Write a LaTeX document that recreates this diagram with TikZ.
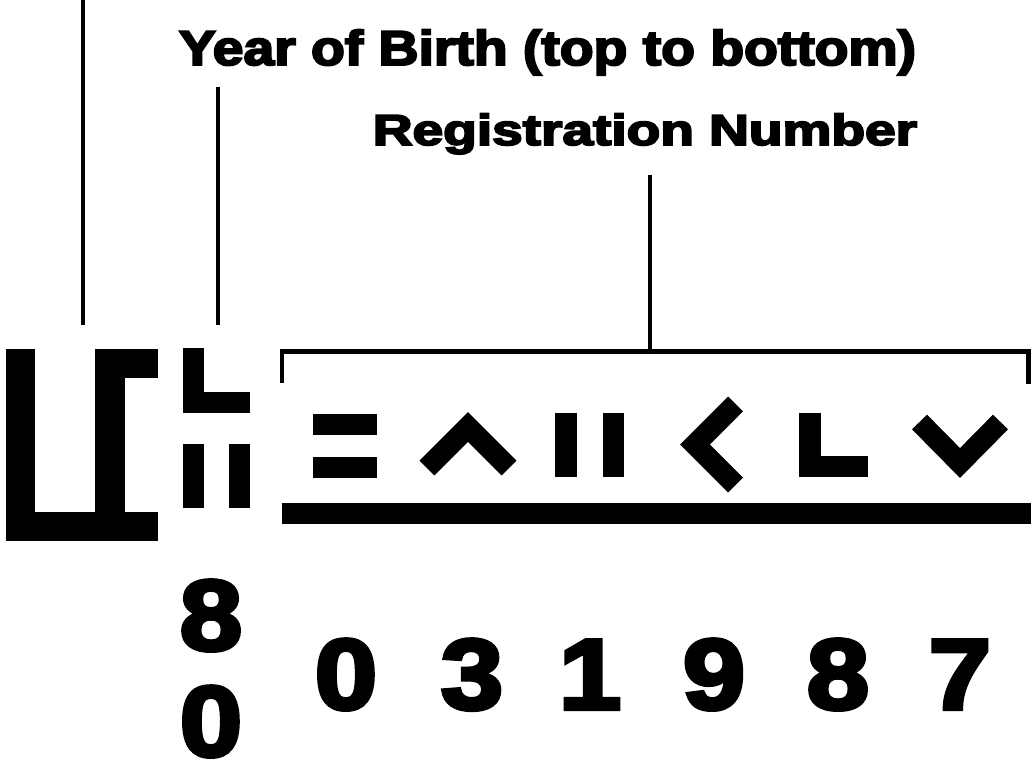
\documentclass[tikz,border=0pt]{standalone}
\usepackage{fontspec}
\usepackage{graphicx}
\usepackage{tikz}
\newfontfamily\heavyfont{Liberation Sans}[BoldFeatures={FakeBold=4}]

\begin{document}
\begin{tikzpicture}[x=0.75pt, y=-0.75pt,
    leader/.style={line width=3.4pt, line join=miter},
    chevron/.style={line width=15.75pt, line join=miter},
    caption/.style={inner sep=0, anchor=base, font=\heavyfont\bfseries},
    digit/.style={inner sep=0, anchor=base, font=\heavyfont\bfseries\fontsize{75}{80}\selectfont}]

  \useasboundingbox (0, 0) rectangle (1033, 764);

  % labels
  \node[caption] (yob) at (547.5, 65)
  { \fontsize{36.7}{40}\selectfont\scalebox{1.13}[1]{Year of Birth (top to bottom)} };
  \node[caption] (reg) at (645, 145)
  { \fontsize{32.5}{36}\selectfont\scalebox{1.27}[1]{Registration Number} };

  % leaders
  \coordinate (pre top) at (83, 0);
  \coordinate (pre end) at (83, 325);
  \coordinate (yob top) at (218, 87);
  \coordinate (yob end) at (218, 325);
  \coordinate (reg top) at (650, 175);
  \coordinate (reg end) at (650, 351.5);
  \draw[leader] (pre top) -- (pre end);
  \draw[leader] (yob top) -- (yob end);
  \draw[leader] (reg top) -- (reg end);
  \draw[leader] (282, 383) -- (282, 351.5) -- (1028.5, 351.5) -- (1028.5, 384);

  % prefix glyph
  \fill (6, 349) rectangle (35, 541);
  \fill (6, 512) rectangle (158, 541);
  \fill (95, 349) rectangle (125, 541);
  \fill (95, 349) rectangle (158, 378);

  % year glyphs
  \fill (183, 348) rectangle (204, 413);
  \fill (183, 392) rectangle (250, 413);
  \fill (183, 444) rectangle (204, 508);
  \fill (229, 444) rectangle (250, 508);

  % registration glyphs
  \fill (313, 414) rectangle (377, 435);
  \fill (313, 457) rectangle (377, 478);
  \draw[chevron] (427, 468) -- (468, 427) -- (509, 468);
  \fill (555, 413) rectangle (577, 477);
  \fill (603, 413) rectangle (624, 477);
  \draw[chevron] (735.5, 404) -- (695, 444.5) -- (735.5, 485);
  \fill (799, 413) rectangle (821, 477);
  \fill (799, 456) rectangle (868, 477);
  \draw[chevron] (919.5, 422) -- (960, 463) -- (1000.5, 422);

  \fill (282, 503) rectangle (1031, 524);

  % digits
  \node[digit] (y1) at (211, 650) { \scalebox{1.12}[1]{8} };
  \node[digit] (y2) at (211, 756) { \scalebox{1.12}[1]{0} };
  \foreach \d/\x [count=\i] in {0/346, 3/472, 1/590, 9/714, 8/838, 7/960}
    \node[digit] (n\i) at (\x, 709) { \scalebox{1.12}[1]{\d} };

\end{tikzpicture}
\end{document}
